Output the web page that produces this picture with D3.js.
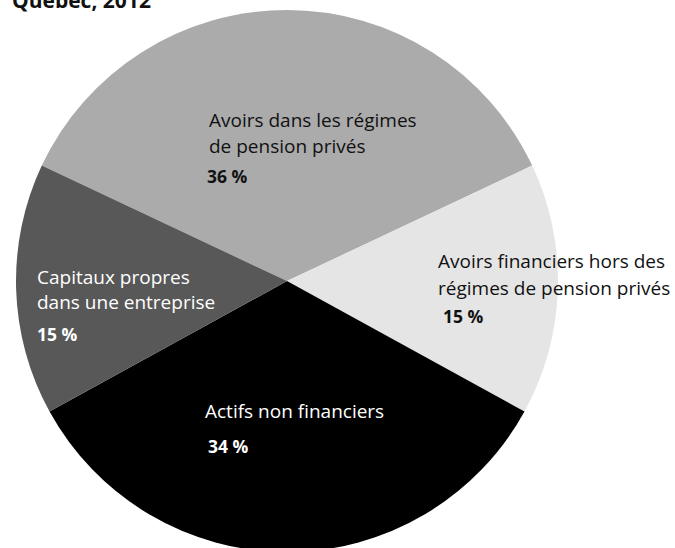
<!DOCTYPE html>
<html lang="fr">
<head>
<meta charset="utf-8">
<script src="https://cdn.jsdelivr.net/npm/d3@7"></script>
<style>
  html, body { margin: 0; padding: 0; background: #fff; }
  svg { display: block; }
  text { font-family: "Open Sans", "Noto Sans", sans-serif; }
</style>
</head>
<body>
<svg id="chart" width="675" height="548"></svg>
<script>
// Répartition de la valeur nette des ménages, Québec, 2012
const categories = [
  ["Avoirs dans les régimes", "de pension privés"],
  ["Avoirs financiers hors des", "régimes de pension privés"],
  ["Actifs non financiers"],
  ["Capitaux propres", "dans une entreprise"]
];
const shares = [36, 15, 34, 15];
const valueLabels = ["36 %", "15 %", "34 %", "15 %"];
const sliceColors = ["#ababab", "#e5e5e5", "#000000", "#585858"];
const textColors = ["#111111", "#111111", "#ffffff", "#ffffff"];
const titleText = "Québec, 2012";

// Layout
const width = 675, height = 548;
const cx = 287, cy = 281, radius = 271;
// Text blocks: left x, first baseline, line gap, offset and gap of the percentage
const labelLayout = [
  { x: 209, y: 127, gap: 26, dx: -2, pctGap: 30 },
  { x: 438, y: 268, gap: 27, dx: 5,  pctGap: 28 },
  { x: 205, y: 418, gap: 25, dx: 3,  pctGap: 35 },
  { x: 37,  y: 284, gap: 25, dx: 0,  pctGap: 32 }
];

const svg = d3.select("#chart");

const pie = d3.pie()
  .sort(null)
  .value(d => d)
  .startAngle(-0.18 * 2 * Math.PI)
  .endAngle(0.82 * 2 * Math.PI);

const arc = d3.arc().innerRadius(0).outerRadius(radius);

const g = svg.append("g").attr("transform", `translate(${cx},${cy})`);

g.selectAll("path")
  .data(pie(shares))
  .join("path")
  .attr("d", arc)
  .attr("fill", (d, i) => sliceColors[i]);

// Slice labels
const labels = svg.append("g");
categories.forEach((lines, i) => {
  const L = labelLayout[i];
  const t = labels.append("text")
    .attr("fill", textColors[i])
    .attr("font-size", 19)
    .attr("x", L.x);
  lines.forEach((line, j) => {
    t.append("tspan")
      .attr("x", L.x)
      .attr("y", L.y + j * L.gap)
      .text(line);
  });
  const lastY = L.y + (lines.length - 1) * L.gap;
  labels.append("text")
    .attr("fill", textColors[i])
    .attr("font-size", 17.5)
    .attr("font-weight", 700)
    .attr("x", L.x + L.dx)
    .attr("y", lastY + L.pctGap)
    .text(valueLabels[i]);
});

// Title (partly above the top edge)
svg.append("text")
  .attr("x", 12)
  .attr("y", 8)
  .attr("font-size", 21)
  .attr("font-weight", 700)
  .attr("fill", "#111")
  .text(titleText);
</script>
</body>
</html>
